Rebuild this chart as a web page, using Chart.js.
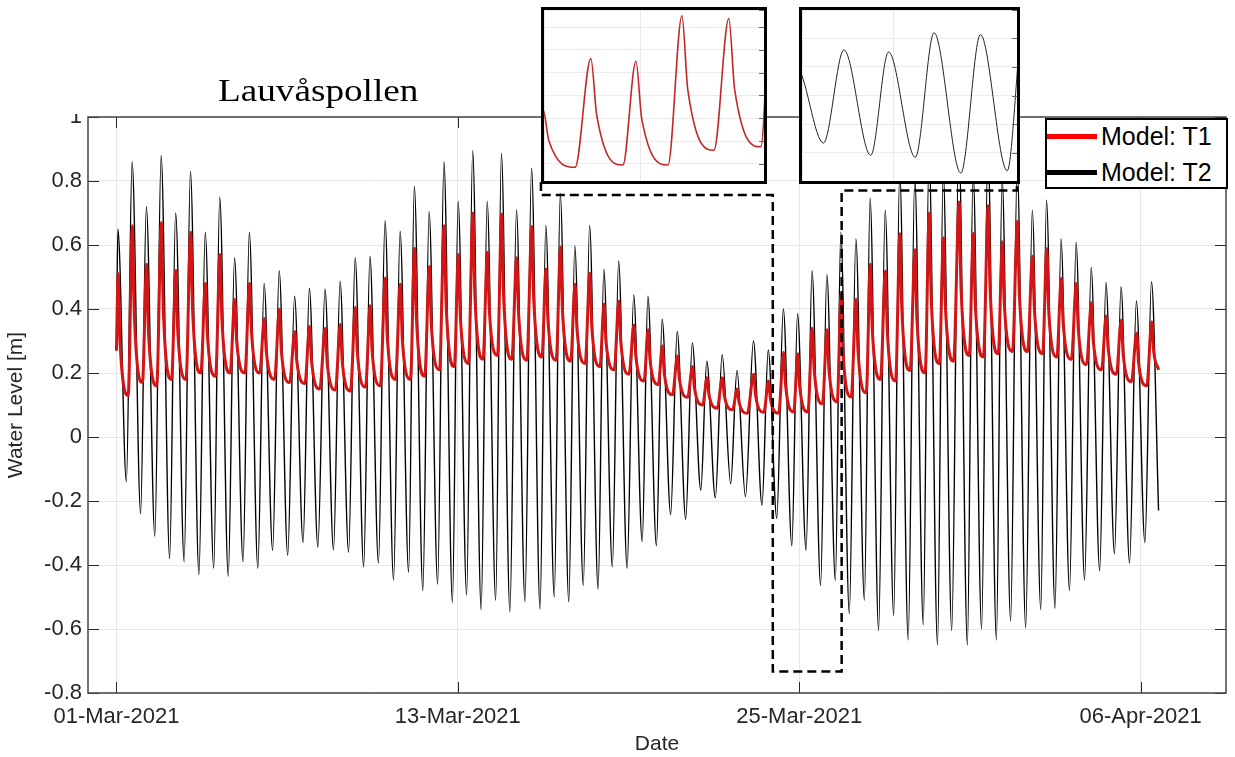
<!DOCTYPE html>
<html>
<head>
<meta charset="utf-8">
<script src="https://cdn.jsdelivr.net/npm/chart.js@4.4.0/dist/chart.umd.min.js"></script>
<style>
  html, body { margin: 0; padding: 0; background: #fff; }
  #wrap { position: relative; width: 1235px; height: 757px; overflow: hidden; }
  #main { position: absolute; left: 0; top: 0; }
  #mask { position: absolute; left: 0; top: 0; width: 88px; height: 114px; background: #fff; }
  #title { position: absolute; left: 218px; top: 74px; font-family: 'Liberation Serif', 'Times New Roman', serif;
           font-size: 31px; line-height: 34px; color: #000; transform: scaleX(1.2); transform-origin: left top; white-space: nowrap; }
  .inset { position: absolute; background: #fff; border: 3px solid #000; box-sizing: border-box; }
  .inset canvas { display: block; }
  #legend { position: absolute; left: 1045px; top: 118px; width: 183px; height: 71px; box-sizing: border-box;
            border: 2px solid #000; background: #fff; font-family: 'Liberation Sans', Arial, sans-serif; font-size: 25px; color: #000; }
  #legend .row { position: absolute; left: 0; height: 30px; line-height: 30px; white-space: nowrap; }
  #legend .swatch { position: absolute; left: 0; top: 13px; width: 50px; height: 5px; }
  #legend .txt { position: absolute; left: 54px; top: 0; }
</style>
</head>
<body>
<div id="wrap">
  <canvas id="main" width="1235" height="757"></canvas>
  <div id="mask"></div>
  <div id="title">Lauvåspollen</div>
  <div class="inset" style="left:541px; top:7px; width:226px; height:177px;"><canvas id="inset1" width="220" height="171"></canvas></div>
  <div class="inset" style="left:799px; top:7px; width:221px; height:177px;"><canvas id="inset2" width="215" height="171"></canvas></div>
  <div id="legend"></div>
</div>
<script>
// tick positions (days after 01-Mar-2021) and their labels
const tickDays = [0, 12, 24, 36];
const tickLabels = ['01-Mar-2021', '13-Mar-2021', '25-Mar-2021', '06-Apr-2021'];
const seriesNames = ['Model: T1', 'Model: T2'];

// times of each high water, days after 01-Mar-2021 00:00
const highDay = [0.05, 0.55, 1.05, 1.57, 2.08, 2.60, 3.12, 3.63, 4.15, 4.67,
  5.19, 5.72, 6.26, 6.78, 7.33, 7.86, 8.39, 8.91, 9.44, 9.97,
  10.47, 10.99, 11.51, 12.01, 12.52, 13.03, 13.53, 14.06, 14.59, 15.09,
  15.60, 16.11, 16.63, 17.13, 17.65, 18.18, 18.68, 19.18, 19.71, 20.24,
  20.75, 21.29, 21.81, 22.39, 22.91, 23.44, 23.94, 24.45, 24.97, 25.46,
  25.99, 26.49, 27.02, 27.53, 28.06, 28.56, 29.06, 29.61, 30.11, 30.63,
  31.13, 31.66, 32.19, 32.69, 33.20, 33.73, 34.26, 34.78, 35.31, 35.85, 36.38];

// T2 (black): high and low water levels [m]
const t2High = [0.65, 0.86, 0.72, 0.88, 0.70, 0.83, 0.64, 0.75, 0.56, 0.64,
  0.48, 0.52, 0.44, 0.465, 0.463, 0.487, 0.56, 0.565, 0.676, 0.643,
  0.784, 0.705, 0.86, 0.737, 0.895, 0.737, 0.887, 0.71, 0.84, 0.662,
  0.76, 0.598, 0.662, 0.524, 0.55, 0.444, 0.44, 0.368, 0.33, 0.294,
  0.237, 0.257, 0.208, 0.30, 0.272, 0.40, 0.385, 0.52, 0.507, 0.64,
  0.62, 0.746, 0.709, 0.83, 0.81, 0.89, 0.83, 0.92, 0.83, 0.91,
  0.81, 0.845, 0.709, 0.74, 0.62, 0.608, 0.53, 0.483, 0.47, 0.425, 0.485];
const t2Low = [-0.14, -0.24, -0.31, -0.38, -0.39, -0.43, -0.41, -0.435, -0.39, -0.41,
  -0.355, -0.37, -0.33, -0.344, -0.353, -0.36, -0.406, -0.394, -0.447, -0.423,
  -0.48, -0.46, -0.517, -0.494, -0.54, -0.51, -0.546, -0.515, -0.538, -0.50,
  -0.515, -0.464, -0.476, -0.406, -0.41, -0.327, -0.34, -0.242, -0.257, -0.166,
  -0.19, -0.146, -0.186, -0.213, -0.254, -0.34, -0.354, -0.464, -0.448, -0.552,
  -0.51, -0.605, -0.558, -0.634, -0.587, -0.65, -0.605, -0.65, -0.60, -0.634,
  -0.575, -0.596, -0.54, -0.535, -0.48, -0.447, -0.418, -0.365, -0.394, -0.33];

// T1 (red): high water, level where the fast drop ends, low water [m]
const t1High = [0.51, 0.66, 0.54, 0.67, 0.52, 0.64, 0.48, 0.57, 0.43, 0.48,
  0.37, 0.40, 0.33, 0.346, 0.34, 0.352, 0.405, 0.41, 0.497, 0.477,
  0.59, 0.533, 0.66, 0.57, 0.70, 0.577, 0.697, 0.56, 0.658, 0.524,
  0.594, 0.477, 0.512, 0.416, 0.425, 0.35, 0.335, 0.284, 0.253, 0.22,
  0.185, 0.185, 0.15, 0.196, 0.175, 0.265, 0.26, 0.34, 0.335, 0.445,
  0.43, 0.54, 0.518, 0.635, 0.585, 0.70, 0.623, 0.734, 0.637, 0.723,
  0.61, 0.674, 0.565, 0.588, 0.495, 0.48, 0.42, 0.378, 0.366, 0.325, 0.36];
const t1Knee = [0.30, 0.39, 0.33, 0.40, 0.33, 0.40, 0.32, 0.37, 0.30, 0.33,
  0.27, 0.27, 0.24, 0.24, 0.234, 0.238, 0.268, 0.27, 0.32, 0.31,
  0.37, 0.355, 0.42, 0.38, 0.45, 0.40, 0.447, 0.384, 0.434, 0.368,
  0.398, 0.34, 0.35, 0.30, 0.30, 0.254, 0.241, 0.20, 0.182, 0.154,
  0.133, 0.13, 0.108, 0.13, 0.12, 0.165, 0.158, 0.21, 0.21, 0.27,
  0.27, 0.34, 0.33, 0.40, 0.37, 0.44, 0.41, 0.47, 0.42, 0.47,
  0.42, 0.45, 0.40, 0.40, 0.36, 0.34, 0.30, 0.28, 0.26, 0.234, 0.27];
const t1Low = [0.13, 0.17, 0.16, 0.18, 0.18, 0.20, 0.19, 0.20, 0.20, 0.20,
  0.18, 0.17, 0.167, 0.15, 0.147, 0.144, 0.156, 0.16, 0.18, 0.18,
  0.19, 0.21, 0.22, 0.23, 0.243, 0.255, 0.243, 0.24, 0.25, 0.24,
  0.237, 0.23, 0.22, 0.21, 0.196, 0.175, 0.164, 0.132, 0.124, 0.10,
  0.09, 0.085, 0.074, 0.077, 0.074, 0.078, 0.078, 0.104, 0.11, 0.125,
  0.138, 0.18, 0.175, 0.208, 0.20, 0.23, 0.237, 0.255, 0.25, 0.26,
  0.267, 0.267, 0.26, 0.25, 0.243, 0.226, 0.21, 0.196, 0.173, 0.16];

// first and last samples of the run
const startDay = 0, startLevel = 0.27;
const endDay = 36.63, t1End = 0.21, t2End = -0.23;

// measured lags after high water (days)
const t2FallDays = 0.30;
const t1PeakLag = 0.01, t1KneeLag = 0.075, t1FallDays = 0.365;

// dashed outline joining the zoom window to the two insets (days, m)
const zoomPathDays = [14.92, 14.92, 23.07, 23.07, 25.49, 25.49, 31.65, 31.65];
const zoomPathLevels = [0.797, 0.756, 0.756, -0.733, -0.733, 0.770, 0.770, 0.797];

function buildT2() {
  const pts = [{ x: startDay, y: startLevel }];
  highDay.forEach((d, i) => {
    pts.push({ x: d, y: t2High[i] });
    if (i < t2Low.length) pts.push({ x: d + t2FallDays, y: t2Low[i] });
  });
  pts.push({ x: endDay, y: t2End });
  return pts;
}

function buildT1() {
  const pts = [{ x: startDay, y: startLevel }];
  highDay.forEach((d, i) => {
    pts.push({ x: d + t1PeakLag, y: t1High[i] });
    pts.push({ x: d + t1KneeLag, y: t1Knee[i] });
    if (i < t1Low.length) pts.push({ x: d + t1FallDays, y: t1Low[i] });
  });
  pts.push({ x: endDay, y: t1End });
  return pts;
}

const t1Points = buildT1();
const t2Points = buildT2();
const FONT = "'Liberation Sans', Arial, sans-serif";
const AX = '#262626';

const boxAndTicks = {
  id: 'boxAndTicks',
  afterDatasetsDraw(chart) {
    const { ctx, chartArea: a, scales: { x, y } } = chart;
    ctx.save();
    ctx.strokeStyle = AX;
    ctx.lineWidth = 1;
    ctx.beginPath();
    x.ticks.forEach(t => {
      const px = Math.round(x.getPixelForValue(t.value)) + 0.5;
      ctx.moveTo(px, a.bottom); ctx.lineTo(px, a.bottom - 11);
      ctx.moveTo(px, a.top); ctx.lineTo(px, a.top + 11);
    });
    y.ticks.forEach(t => {
      const py = Math.round(y.getPixelForValue(t.value)) + 0.5;
      ctx.moveTo(a.left, py); ctx.lineTo(a.left + 11, py);
      ctx.moveTo(a.right, py); ctx.lineTo(a.right - 11, py);
    });
    ctx.stroke();
    ctx.strokeStyle = '#444';
    ctx.lineWidth = 1.5;
    ctx.strokeRect(a.left, a.top, a.right - a.left, a.bottom - a.top);
    ctx.restore();
  }
};

const zoomOutline = {
  id: 'zoomOutline',
  afterDatasetsDraw(chart) {
    const { ctx, scales: { x, y } } = chart;
    ctx.save();
    ctx.setLineDash([9, 5]);
    ctx.lineWidth = 2.5;
    ctx.strokeStyle = '#000';
    ctx.beginPath();
    zoomPathDays.forEach((d, i) => {
      const px = x.getPixelForValue(d), py = y.getPixelForValue(zoomPathLevels[i]);
      if (i === 0) ctx.moveTo(px, py); else ctx.lineTo(px, py);
    });
    ctx.stroke();
    ctx.restore();
  }
};

const mainChart = new Chart(document.getElementById('main'), {
  type: 'line',
  data: {
    datasets: [
      { label: seriesNames[0], data: t1Points, borderColor: '#d41515', borderWidth: 3,
        cubicInterpolationMode: 'monotone', pointRadius: 0, fill: false },
      { label: seriesNames[1], data: t2Points, borderColor: '#000000', borderWidth: 1.4,
        cubicInterpolationMode: 'monotone', pointRadius: 0, fill: false }
    ]
  },
  options: {
    responsive: false,
    animation: false,
    layout: { padding: { top: 117, right: 9, left: 0, bottom: 0 } },
    plugins: { legend: { display: false }, tooltip: { enabled: false } },
    scales: {
      x: {
        type: 'linear', min: -1, max: 39,
        afterBuildTicks: s => { s.ticks = tickDays.map(v => ({ value: v })); },
        afterFit: s => { s.height = 64; },
        ticks: { autoSkip: false, maxRotation: 0, padding: 11, color: AX, font: { family: FONT, size: 22 },
                 callback: v => tickLabels[tickDays.indexOf(v)] },
        grid: { color: '#e6e6e6', drawTicks: false },
        border: { display: false },
        title: { display: true, text: 'Date', color: AX, font: { family: FONT, size: 21 }, padding: { top: 0, bottom: 0 } }
      },
      y: {
        min: -0.8, max: 1,
        afterFit: s => { s.width = 88; },
        ticks: { stepSize: 0.2, padding: 6, color: AX, font: { family: FONT, size: 22 },
                 callback: v => (Math.abs(v) < 1e-9 ? '0' : String(Math.round(v * 10) / 10)) },
        grid: { color: '#e6e6e6', drawTicks: false },
        border: { display: false },
        title: { display: true, text: 'Water Level [m]', color: AX, font: { family: FONT, size: 21 }, padding: { top: 4, bottom: 0 } }
      }
    }
  },
  plugins: [boxAndTicks, zoomOutline]
});

// legend built from the datasets
const legendEl = document.getElementById('legend');
const swatchColors = ['#ff0000', '#000000'];
mainChart.data.datasets.forEach((ds, i) => {
  const row = document.createElement('div');
  row.className = 'row';
  row.style.top = (i === 0 ? 1 : 37) + 'px';
  row.style.width = '100%';
  row.innerHTML = '<span class="swatch" style="background:' + swatchColors[i] + '"></span><span class="txt">' + ds.label + '</span>';
  legendEl.appendChild(row);
});

const insetTicks = {
  id: 'insetTicks',
  afterDatasetsDraw(chart) {
    const { ctx, chartArea: a, scales: { y } } = chart;
    ctx.save();
    ctx.strokeStyle = '#666';
    ctx.lineWidth = 1;
    ctx.beginPath();
    y.ticks.forEach(t => {
      const py = Math.round(y.getPixelForValue(t.value)) + 0.5;
      ctx.moveTo(a.right, py); ctx.lineTo(a.right - 5, py);
    });
    ctx.stroke();
    ctx.restore();
  }
};

function insetChart(id, points, color, width, xMin, xMax, yMin, yMax, yStep) {
  return new Chart(document.getElementById(id), {
    type: 'line',
    data: { datasets: [{ data: points, borderColor: color, borderWidth: width,
                         cubicInterpolationMode: 'monotone', pointRadius: 0, fill: false }] },
    options: {
      responsive: false,
      animation: false,
      layout: { padding: 0 },
      plugins: { legend: { display: false }, tooltip: { enabled: false } },
      scales: {
        x: { type: 'linear', min: xMin, max: xMax, afterFit: s => { s.height = 0; },
             ticks: { display: false, stepSize: 1 }, grid: { color: '#e8e8e8', drawTicks: false }, border: { display: false } },
        y: { min: yMin, max: yMax, afterFit: s => { s.width = 0; },
             ticks: { display: false, stepSize: yStep }, grid: { color: '#ececec', drawTicks: false }, border: { display: false } }
      }
    },
    plugins: [insetTicks]
  });
}

insetChart('inset1', t1Points, '#c0282a', 1.6, 22.93, 25.37, 0.05, 0.35, 0.04);
insetChart('inset2', t2Points, '#222222', 1.0, 22.97, 25.38, -0.52, 0.68, 0.2);
</script>
</body>
</html>
